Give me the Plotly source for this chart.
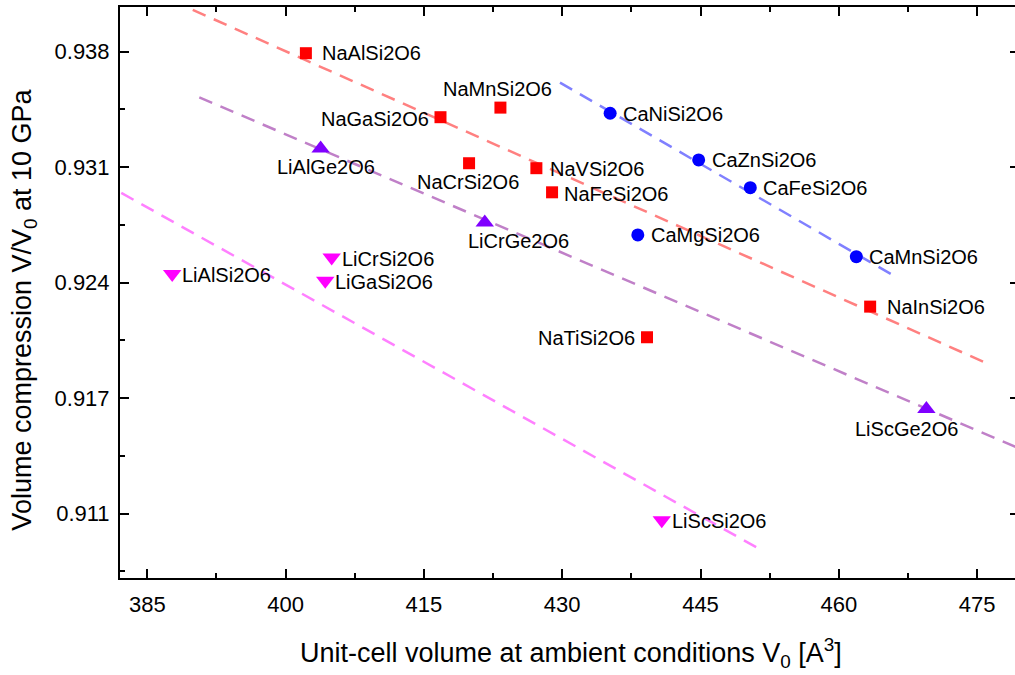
import plotly.graph_objects as go

# Na-pyroxenes (squares)
na_names = ["NaAlSi2O6", "NaGaSi2O6", "NaMnSi2O6", "NaCrSi2O6",
            "NaVSi2O6", "NaFeSi2O6", "NaInSi2O6", "NaTiSi2O6"]
na_v0 = [402.2, 416.8, 423.3, 419.9, 427.2, 428.9, 463.4, 439.2]
na_ratio = [0.93791, 0.93417, 0.93473, 0.93148, 0.93119, 0.92978, 0.92310, 0.92131]

# Ca-pyroxenes (circles)
ca_names = ["CaNiSi2O6", "CaZnSi2O6", "CaFeSi2O6", "CaMgSi2O6", "CaMnSi2O6"]
ca_v0 = [435.2, 444.8, 450.4, 438.2, 461.9]
ca_ratio = [0.93440, 0.93167, 0.93005, 0.92729, 0.92602]

# Li germanates (up triangles)
lige_names = ["LiAlGe2O6", "LiCrGe2O6", "LiScGe2O6"]
lige_v0 = [403.8, 421.6, 469.5]
lige_ratio = [0.93234, 0.92802, 0.91711]

# Li silicates (down triangles)
lisi_names = ["LiAlSi2O6", "LiGaSi2O6", "LiCrSi2O6", "LiScSi2O6"]
lisi_v0 = [387.7, 404.3, 405.0, 440.8]
lisi_ratio = [0.92500, 0.92461, 0.92597, 0.91062]

# Linear trend lines (end points)
na_fit_x, na_fit_y = [389.93, 475.67], [0.94044, 0.91988]
ca_fit_x, ca_fit_y = [429.76, 466.45], [0.93619, 0.92476]
lige_fit_x, lige_fit_y = [390.64, 480.0], [0.93533, 0.91471]
lisi_fit_x, lisi_fit_y = [380.0, 451.45], [0.93040, 0.90892]

# Axis ticks
x_tick0, x_dtick = 385, 15
y_tickvals = [0.911, 0.91775, 0.9245, 0.93125, 0.938]
y_ticktext = ["0.911", "0.917", "0.924", "0.931", "0.938"]
y_minorvals = [0.907625, 0.914375, 0.921125, 0.927875, 0.934625]
x_range = [382.04, 479.11]
y_range = [0.90724, 0.94061]

FONT = "Liberation Sans, Arial, sans-serif"

# label placement: (xanchor, dx px, dy px)
label_pos = {
    "NaAlSi2O6": ("left", 14, 0), "NaGaSi2O6": ("right", -9, 1.5),
    "NaMnSi2O6": ("center", -3, -19), "NaCrSi2O6": ("center", -1.5, 19),
    "NaVSi2O6": ("left", 12, 0.5), "NaFeSi2O6": ("left", 10, 1.5),
    "NaInSi2O6": ("left", 15, 0.8), "NaTiSi2O6": ("right", -10, 1),
    "CaNiSi2O6": ("left", 11, 0.5), "CaZnSi2O6": ("left", 11, 0.3),
    "CaFeSi2O6": ("left", 11, 0), "CaMgSi2O6": ("left", 11, 0.5),
    "CaMnSi2O6": ("left", 11, 0),
    "LiAlGe2O6": ("center", 5, 18.5), "LiCrGe2O6": ("center", 33.5, 18.5),
    "LiScGe2O6": ("center", -20, 20),
    "LiAlSi2O6": ("left", 8, 1.3), "LiGaSi2O6": ("left", 8, 0.8),
    "LiCrSi2O6": ("left", 8, 1.5), "LiScSi2O6": ("left", 8, 0.6),
}

fig = go.Figure()

dash = "14px,9px"
for fx, fy, col in [(na_fit_x, na_fit_y, "#FF8080"),
                    (ca_fit_x, ca_fit_y, "#8080FF"),
                    (lige_fit_x, lige_fit_y, "#C080C8"),
                    (lisi_fit_x, lisi_fit_y, "#FF80FF")]:
    fig.add_trace(go.Scatter(x=fx, y=fy, mode="lines",
                             line=dict(color=col, width=2.5, dash=dash),
                             hoverinfo="skip", showlegend=False))

groups = [
    (na_names, na_v0, na_ratio, "square", "#FF0000", 12),
    (ca_names, ca_v0, ca_ratio, "circle", "#0000FF", 13),
    (lige_names, lige_v0, lige_ratio, "triangle-up", "#8000FF", 16),
    (lisi_names, lisi_v0, lisi_ratio, "triangle-down", "#FF00FF", 16),
]
annotations = []
for names, xs, ys, sym, col, size in groups:
    fig.add_trace(go.Scatter(x=xs, y=ys, mode="markers", text=names,
                             marker=dict(symbol=sym, color=col, size=size),
                             showlegend=False))
    for n, x, y in zip(names, xs, ys):
        anchor, dx, dy = label_pos[n]
        annotations.append(dict(x=x, y=y, xref="x", yref="y", text=n,
                                showarrow=False, xanchor=anchor, yanchor="middle",
                                xshift=dx, yshift=-dy,
                                font=dict(family=FONT, size=20, color="black")))

# right-hand tick marks
fig.add_trace(go.Scatter(x=[None], y=[None], yaxis="y2", showlegend=False,
                         hoverinfo="skip"))

annotations.append(dict(
    text="Unit-cell volume at ambient conditions V<sub>0</sub> [A<sup>3</sup>]",
    xref="paper", yref="paper", x=0.5034, y=-0.131, xanchor="center",
    yanchor="middle", showarrow=False,
    font=dict(family=FONT, size=27, color="black")))
annotations.append(dict(
    text="Volume compression V/V<sub>0</sub> at 10 GPa",
    xref="paper", yref="paper", x=0, xshift=-96, y=0.47, xanchor="center",
    yanchor="middle", textangle=-90, showarrow=False,
    font=dict(family=FONT, size=27, color="black")))

fig.update_layout(
    width=1015, height=675,
    margin=dict(l=120, r=0, t=7, b=97),
    paper_bgcolor="white", plot_bgcolor="white",
    font=dict(family=FONT, color="black"),
    annotations=annotations,
    xaxis=dict(range=x_range, tick0=x_tick0, dtick=x_dtick, ticks="inside",
               ticklen=9, tickwidth=1.5, tickcolor="black",
               showline=True, linewidth=2, linecolor="black", mirror="ticks",
               showgrid=False, zeroline=False,
               tickfont=dict(family=FONT, size=22, color="black"),
               ticklabelstandoff=6,
               minor=dict(dtick=7.5, tick0=x_tick0, ticks="inside", ticklen=5,
                          tickwidth=1.5, tickcolor="black", showgrid=False)),
    yaxis=dict(range=y_range, tickvals=y_tickvals, ticktext=y_ticktext,
               ticks="inside", ticklen=9, tickwidth=1.5, tickcolor="black",
               showline=True, linewidth=2, linecolor="black", mirror=False,
               showgrid=False, zeroline=False,
               tickfont=dict(family=FONT, size=22, color="black"),
               ticklabelstandoff=4,
               minor=dict(tickvals=y_minorvals, ticks="inside", ticklen=5,
                          tickwidth=1.5, tickcolor="black", showgrid=False)),
    yaxis2=dict(overlaying="y", side="right", matches="y", range=y_range,
                tickvals=y_tickvals, ticks="inside", ticklen=5, tickwidth=1.5,
                tickcolor="black", showticklabels=False, showline=False,
                showgrid=False, zeroline=False),
)

fig.write_html("out.html")
